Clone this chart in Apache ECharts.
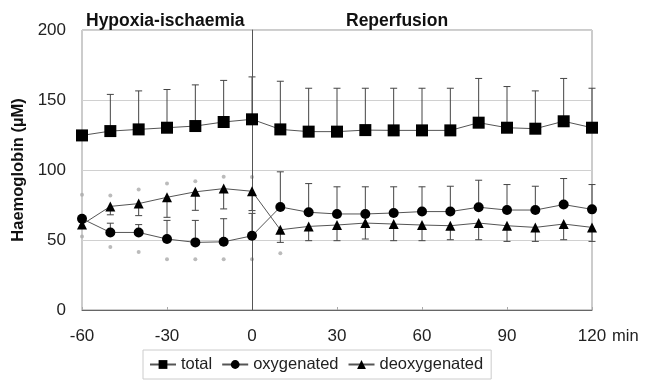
<!DOCTYPE html>
<html><head><meta charset="utf-8">
<script src="https://cdn.jsdelivr.net/npm/echarts@6/dist/echarts.min.js"></script>
<style>html,body{margin:0;padding:0;background:#fff}#c{width:645px;height:380px}</style>
</head><body><div id="c"></div>
<script>
const times = [-60,-50,-40,-30,-20,-10,0,10,20,30,40,50,60,70,80,90,100,110,120];
const total = [124.7,127.8,129,130.2,131.4,134.3,136.2,129,127.4,127.4,128.5,128.3,128.3,128.3,133.8,130.2,129.5,134.8,130.2];
const totalUpper = [null,154,156.5,157.5,160.8,164,166.5,163.4,158.4,158.4,158.4,158.4,158.4,158.4,165.4,159.6,156.5,165.4,158.4];
const oxygenated = [65.2,55.4,55.4,50.7,48.3,48.7,53,73.6,69.8,68.6,68.6,69.3,70.3,70.3,73.4,71.4,71.4,75.3,71.9];
const oxyUpper = [null,62,61,64,64,65.2,69,98.7,90.3,88,88,88,88,88.4,92.7,89.6,88.4,93.9,89.6];
const deoxygenated = [61,74,76,80.5,84.4,86.7,84.8,57.3,59.7,60.7,62.1,61.4,60.7,60.2,62.1,60.2,59,61.4,59];
const deoxyLower = [null,68,67.4,66.2,71.2,72.2,71,48.3,49.5,49.5,50.7,49.5,49.5,50.2,50.2,49,49,50.2,49];
const starTimesHigh = [-60,-50,-40,-30,-20,-10,0];
const starsHigh = [82.4,81.7,86,90.3,92,95.1,95];
const starTimesLow = [-60,-50,-40,-30,-20,-10,0,10];
const starsLow = [52.5,45,41.4,36.3,36.3,36.3,36.3,40.6];
const yTicks = [0,50,100,150,200];
const xTicks = [-60,-30,0,30,60,90,120];

const FONT = 'Liberation Sans, Arial, sans-serif';
const chart = echarts.init(document.getElementById('c'), null, {renderer:'canvas'});

function errData(mean, end){
  const out=[];
  times.forEach((t,i)=>{ if(end[i]!=null) out.push([t, mean[i], end[i]]); });
  return out;
}
function errSeries(data){
  return {
    type:'custom', z:2, silent:true,
    renderItem:(params, api)=>{
      const p0 = api.coord([api.value(0), api.value(1)]);
      const p1 = api.coord([api.value(0), api.value(2)]);
      const st = {stroke:'#444', lineWidth:1};
      return {type:'group', children:[
        {type:'line', shape:{x1:p0[0],y1:p0[1],x2:p1[0],y2:p1[1]}, style:st},
        {type:'line', shape:{x1:p1[0]-3.5,y1:p1[1],x2:p1[0]+3.5,y2:p1[1]}, style:st}
      ]};
    },
    encode:{x:0,y:[1,2]},
    data:data
  };
}
const pair = (xs, ys)=>xs.map((t,i)=>[t, ys[i]]);

chart.setOption({
  animation:false,
  backgroundColor:'#fff',
  title:[
    {text:'Hypoxia-ischaemia', left:81, top:7, textStyle:{fontFamily:FONT, fontSize:17.5, fontWeight:'bold', color:'#111'}},
    {text:'Reperfusion', left:341, top:7, textStyle:{fontFamily:FONT, fontSize:17.5, fontWeight:'bold', color:'#111'}}
  ],
  grid:{left:82, right:53, top:30, bottom:70, show:true, borderColor:'#999', borderWidth:1},
  legend:{
    left:143, top:350, itemGap:9, itemWidth:26, itemHeight:11,
    borderColor:'#ccc', borderWidth:1, padding:[6,8,6,6],
    textStyle:{fontFamily:FONT, fontSize:16.5, color:'#222'},
    data:['total','oxygenated','deoxygenated']
  },
  xAxis:{
    type:'value', min:-60, max:120, interval:30,
    name:'min', nameLocation:'end', nameGap:14,
    nameTextStyle:{fontFamily:FONT, fontSize:16.5, color:'#222', verticalAlign:'top', padding:[18,0,0,0]},
    axisLine:{show:true, lineStyle:{color:'#666', width:1}},
    axisTick:{show:true, inside:true, length:3, lineStyle:{color:'#aaa'}},
    axisLabel:{fontFamily:FONT, fontSize:17, color:'#222', margin:18, customValues:xTicks},
    splitLine:{show:false}
  },
  yAxis:{
    type:'value', min:0, max:200, interval:50,
    name:'Haemoglobin (µM)', nameLocation:'middle', nameGap:46,
    nameTextStyle:{fontFamily:FONT, fontSize:16.5, fontWeight:'bold', color:'#111'},
    axisLine:{show:true, lineStyle:{color:'#666', width:1}},
    axisTick:{show:false},
    axisLabel:{fontFamily:FONT, fontSize:17, color:'#222', margin:16, customValues:yTicks},
    splitLine:{show:true, lineStyle:{color:'#d0d0d0', width:1}}
  },
  series:[
    errSeries(errData(total,totalUpper)),
    errSeries(errData(oxygenated,oxyUpper)),
    errSeries(errData(deoxygenated,deoxyLower)),
    {name:'total', type:'line', z:5, data:pair(times,total), symbol:'rect', symbolSize:12,
     itemStyle:{color:'#000'}, lineStyle:{color:'#555', width:1},
     markLine:{silent:true, symbol:'none', label:{show:false}, lineStyle:{color:'#555', width:1, type:'solid'}, data:[{xAxis:0}]}},
    {name:'oxygenated', type:'line', z:5, data:pair(times,oxygenated), symbol:'circle', symbolSize:10,
     itemStyle:{color:'#000'}, lineStyle:{color:'#555', width:1}},
    {name:'deoxygenated', type:'line', z:5, data:pair(times,deoxygenated), symbol:'triangle', symbolSize:10,
     itemStyle:{color:'#000'}, lineStyle:{color:'#555', width:1}},
    {type:'scatter', z:3, silent:true, data:pair(starTimesHigh,starsHigh), symbol:'circle', symbolSize:4, itemStyle:{color:'#aaa'}},
    {type:'scatter', z:3, silent:true, data:pair(starTimesLow,starsLow), symbol:'circle', symbolSize:4, itemStyle:{color:'#aaa'}}
  ]
});
</script></body></html>
